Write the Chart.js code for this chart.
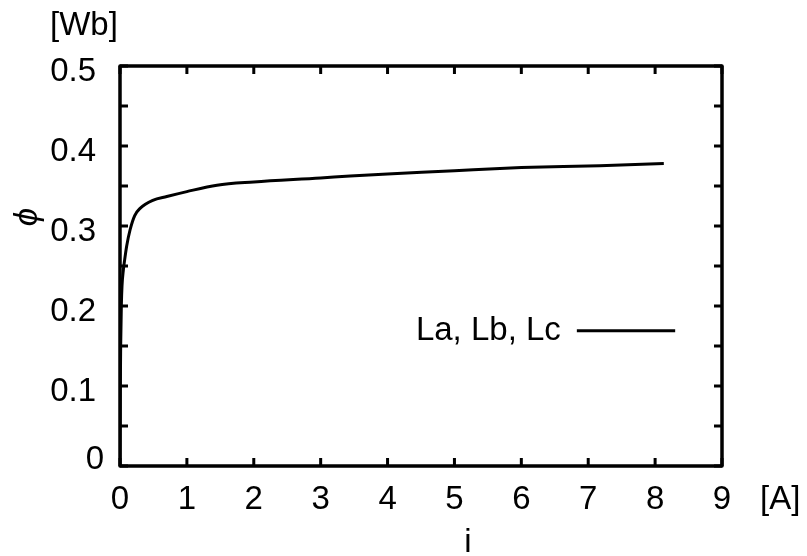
<!DOCTYPE html>
<html><head><meta charset="utf-8">
<script src="https://cdn.jsdelivr.net/npm/chart.js@4.4.1/dist/chart.umd.min.js"></script>
<style>html,body{margin:0;padding:0;background:#fff}canvas{display:block}</style>
</head><body><canvas id="c" width="807" height="556"></canvas>
<script>
// Data
const currentA = [0, 0.005, 0.01, 0.02, 0.03, 0.05, 0.07, 0.1, 0.15, 0.22, 0.3, 0.49, 0.7, 1.0, 1.45, 2.0, 3.0, 3.44, 4.0, 5.0, 5.68, 6.0, 7.17, 8.13];
const fluxWb   = [0, 0.10, 0.15, 0.20, 0.225, 0.245, 0.258, 0.275, 0.295, 0.313, 0.322, 0.332, 0.3368, 0.343, 0.351, 0.355, 0.360, 0.3625, 0.365, 0.369, 0.372, 0.373, 0.3754, 0.378];
const xTickValues = [0, 1, 2, 3, 4, 5, 6, 7, 8, 9];
const yTickValues = [0, 0.1, 0.2, 0.3, 0.4, 0.5];
const yMinorTicks = [0.05, 0.15, 0.25, 0.35, 0.45];
const seriesName = 'La, Lb, Lc';
const yUnit = '[Wb]';
const xUnit = '[A]';
const yTitle = 'ϕ';
const xTitle = 'i';

const FONT = "'Liberation Sans', Arial, sans-serif";
const FS = 33;
const points = currentA.map((x, k) => ({x: x, y: fluxWb[k]}));

const framePlugin = {
  id: 'frame',
  afterDraw(chart) {
    const ctx = chart.ctx, a = chart.chartArea;
    const xs = chart.scales.x, ys = chart.scales.y;
    ctx.save();
    ctx.strokeStyle = '#000';
    ctx.lineWidth = 3.5;
    ctx.lineJoin = 'round';
    ctx.strokeRect(a.left, a.top, a.right - a.left, a.bottom - a.top);
    ctx.lineWidth = 3;
    const tl = 8;
    ctx.beginPath();
    xTickValues.forEach(v => {
      const px = xs.getPixelForValue(v);
      ctx.moveTo(px, a.bottom); ctx.lineTo(px, a.bottom - tl);
      ctx.moveTo(px, a.top); ctx.lineTo(px, a.top + tl);
    });
    yTickValues.concat(yMinorTicks).forEach(v => {
      const py = ys.getPixelForValue(v);
      ctx.moveTo(a.left, py); ctx.lineTo(a.left + tl, py);
      ctx.moveTo(a.right, py); ctx.lineTo(a.right - tl, py);
    });
    ctx.stroke();

    ctx.fillStyle = '#000';
    ctx.font = FS + 'px ' + FONT;

    // y "0" label sits slightly above the axis corner in the reference
    ctx.textAlign = 'right';
    ctx.textBaseline = 'middle';
    ctx.fillText(String(yTickValues[0]), a.left - 16, ys.getPixelForValue(0) - 6);

    // legend (text then line sample)
    const ly = ys.getPixelForValue(0.169);
    const lx1 = xs.getPixelForValue(6.83), lx2 = xs.getPixelForValue(8.30);
    ctx.fillText(seriesName, lx1 - 16, ly);
    ctx.lineWidth = 3;
    ctx.beginPath(); ctx.moveTo(lx1, ly); ctx.lineTo(lx2, ly); ctx.stroke();

    // units and titles
    ctx.textAlign = 'left';
    ctx.textBaseline = 'alphabetic';
    ctx.fillText(yUnit, 50, 35);
    ctx.fillText(xUnit, a.right + 38, 509);
    ctx.textAlign = 'center';
    ctx.fillText(xTitle, xs.getPixelForValue(5.2), 552);
    ctx.save();
    ctx.translate(28, 217);
    ctx.rotate(-Math.PI / 2);
    ctx.textBaseline = 'middle';
    ctx.font = 'italic ' + FS + 'px ' + FONT;
    ctx.fillText(yTitle, 0, 0);
    ctx.restore();
    ctx.restore();
  }
};

new Chart(document.getElementById('c'), {
  type: 'line',
  data: {
    datasets: [{
      label: seriesName,
      data: points,
      borderColor: '#000',
      borderWidth: 3,
      pointRadius: 0,
      fill: false,
      cubicInterpolationMode: 'monotone'
    }]
  },
  options: {
    responsive: false,
    animation: false,
    layout: { padding: { left: 0, right: 85, top: 66, bottom: 0 } },
    plugins: { legend: { display: false }, tooltip: { enabled: false } },
    scales: {
      x: {
        type: 'linear', min: 0, max: 9,
        grid: { display: false }, border: { display: false },
        afterFit(s) { s.height = 90; },
        afterBuildTicks(s) { s.ticks = xTickValues.map(v => ({value: v})); },
        ticks: { color: '#000', font: { family: FONT, size: FS }, padding: 6, maxRotation: 0,
          callback: v => String(v) }
      },
      y: {
        type: 'linear', min: 0, max: 0.5,
        grid: { display: false }, border: { display: false },
        afterFit(s) { s.width = 120; },
        afterBuildTicks(s) { s.ticks = yTickValues.map(v => ({value: v})); },
        ticks: { color: '#000', font: { family: FONT, size: FS }, padding: 16, labelOffset: 6,
          callback: v => v === 0 ? '' : v.toFixed(1) }
      }
    }
  },
  plugins: [framePlugin]
});
</script>
</body></html>
